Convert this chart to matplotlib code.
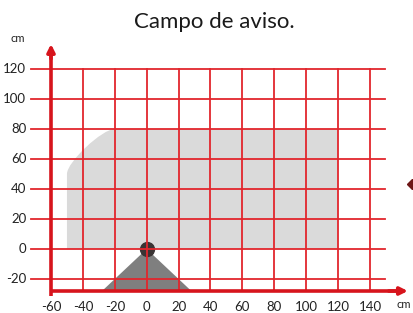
import matplotlib.pyplot as plt
from matplotlib.path import Path
from matplotlib.patches import PathPatch, Polygon

# chart values
x_ticks = [-60, -40, -20, 0, 20, 40, 60, 80, 100, 120, 140]
y_ticks = [-20, 0, 20, 40, 60, 80, 100, 120]
zone_x = [-50, 120]      # light grey warning field
zone_y = [0, 80]
corner = [-20, 50]       # where the rounded corner starts on top / on the left side
cone_depth = 28          # dark cone under the sensor
x_axis_y = -28
title = "Campo de aviso."

red = "#e2262d"
axis_red = "#d7141c"
font = ["Lato", "DejaVu Sans"]
plt.rcParams["font.family"] = font

W, H = 414, 313
fig = plt.figure(figsize=(W / 100, H / 100), dpi=100)

# pixel mapping: x=0 at 146.7px, 1.595 px/cm ; y=0 at 249px, 1.5 px/cm
ox, sx = 146.7, 1.595
oy, sy = 249.0, 1.5
xlim = (-75, 167)
ylim = (-43, 140)
left = (ox + xlim[0] * sx) / W
right = (ox + xlim[1] * sx) / W
top = 1 - (oy - ylim[1] * sy) / H
bottom = 1 - (oy - ylim[0] * sy) / H
ax = fig.add_axes([left, bottom, right - left, top - bottom])
ax.set_xlim(xlim)
ax.set_ylim(ylim)
ax.axis("off")

# light grey field with rounded top-left corner
verts = [(zone_x[0], zone_y[0]), (zone_x[0], corner[1]),
         (zone_x[0], corner[1] + 8), (corner[0] - 8, zone_y[1]), (corner[0], zone_y[1]),
         (zone_x[1], zone_y[1]), (zone_x[1], zone_y[0]), (zone_x[0], zone_y[0])]
codes = [Path.MOVETO, Path.LINETO, Path.CURVE4, Path.CURVE4, Path.CURVE4,
         Path.LINETO, Path.LINETO, Path.CLOSEPOLY]
ax.add_patch(PathPatch(Path(verts, codes), facecolor="#dadada", edgecolor="none", zorder=1))

# sensor cone and sensor
ax.add_patch(Polygon([(0, 0), (-cone_depth, x_axis_y), (cone_depth, x_axis_y)],
                     closed=True, facecolor="#7f7f7f", edgecolor="none", zorder=2))
ax.plot([0], [0], "o", ms=10, color="#3a3434", zorder=3)

# grid
for y in y_ticks:
    ax.plot([-72.5, 149.5], [y, y], color=red, lw=1.3, zorder=4)
    ax.text(-75.5, y, str(y), ha="right", va="center", fontsize=9.5, color="#222222")
for x in x_ticks[1:]:
    ax.plot([x, x], [x_axis_y, 120], color=red, lw=1.3, zorder=4)
for x in x_ticks:
    ax.text(x, -38.5, str(x), ha="center", va="center", fontsize=9.5, color="#222222")

# axes with arrows
ax.plot([-60, -60], [-31.5, 130], color=axis_red, lw=2.6, zorder=5, solid_capstyle="butt")
ax.annotate("", xy=(-60, 138.5), xytext=(-60, 125),
            arrowprops=dict(arrowstyle="-|>", color=axis_red, lw=2.6, mutation_scale=11))
ax.plot([-60, 158], [x_axis_y, x_axis_y], color=axis_red, lw=2.6, zorder=5, solid_capstyle="butt")
ax.annotate("", xy=(165.5, x_axis_y), xytext=(150, x_axis_y),
            arrowprops=dict(arrowstyle="-|>", color=axis_red, lw=2.6, mutation_scale=11),
            annotation_clip=False)

# stray marker at the right edge
ax.plot([166.5], [43.3], "D", ms=5, color="#6e1616", clip_on=False)

fig.text(18 / W, 1 - 38 / H, "cm", ha="center", va="center", fontsize=8, color="#222222")
fig.text(411 / W, 1 - 305 / H, "cm", ha="right", va="center", fontsize=8, color="#222222")
fig.text(214 / W, 1 - 22 / H, title, ha="center", va="center", fontsize=16, color="#1a1a1a")

fig.savefig("out.png", dpi=100)
